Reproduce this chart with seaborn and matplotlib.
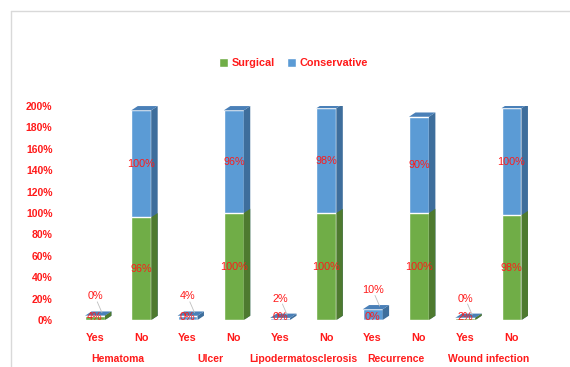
import matplotlib
matplotlib.use("Agg")
import matplotlib.pyplot as plt
from matplotlib.patches import Polygon, Patch
from matplotlib.lines import Line2D
import seaborn as sns
import pandas as pd

groups = ["Hematoma", "Ulcer", "Lipodermatosclerosis", "Recurrence", "Wound infection"]
answers = ["Yes", "No"]
surgical = [4, 96, 0, 100, 0, 100, 0, 100, 2, 98]
conservative = [0, 100, 4, 96, 2, 98, 10, 90, 0, 100]
y_ticks = [0, 20, 40, 60, 80, 100, 120, 140, 160, 180, 200]

green, blue = "#70AD47", "#5B9BD5"
green_side, blue_side = "#4E7A2F", "#3E6E9C"
blue_top = "#4A80B8"
red = "#FF1A1A"

df = pd.DataFrame({
    "slot": [f"{g}|{a}" for g in groups for a in answers],
    "answer": answers * len(groups),
    "Surgical": surgical,
    "Conservative": conservative,
})
df["Total"] = df["Surgical"] + df["Conservative"]

sns.set_style("white")
plt.rcParams["font.family"] = ["Liberation Sans", "DejaVu Sans"]

fig = plt.figure(figsize=(5.7, 3.67), dpi=100)
ax = fig.add_axes([0.126, 0.128, 0.812, 0.583])

# stacked look: total in blue, surgical in green over it
sns.barplot(data=df, x="slot", y="Total", color=blue, saturation=1, width=0.43, ax=ax, zorder=2)
n = len(df)
sns.barplot(data=df, x="slot", y="Surgical", color=green, saturation=1, width=0.43, ax=ax, zorder=4)

# fake 3D depth
dx, dy = 0.14, 4.0
for k, p in enumerate(ax.patches):
    x0 = p.get_x()
    x1 = x0 + p.get_width()
    h = p.get_height()
    is_green = k >= n
    side = green_side if is_green else blue_side
    z = 4 if is_green else 2
    ax.add_patch(Polygon([(x1, 0), (x1 + dx, dy), (x1 + dx, h + dy), (x1, h)],
                         closed=True, facecolor=side, edgecolor="none", zorder=z))
    if not is_green:
        ax.add_patch(Polygon([(x0, h), (x0 + dx, h + dy), (x1 + dx, h + dy), (x1, h)],
                             closed=True, facecolor=blue_top, edgecolor="none", zorder=z))

# data labels
for i, row in df.iterrows():
    s, c = row["Surgical"], row["Conservative"]
    if row["answer"] == "Yes":
        ys, yc = 3, s + c + 18
        # small leader line from label to bar
        ax.plot([i + 0.05, i + 0.15], [yc - 5, s + c + 3], color="#BFBFBF", lw=0.6, zorder=5)
    else:
        ys, yc = s / 2, s + c / 2
    ax.text(i, ys, f"{s}%", color=red, fontsize=7.8, ha="center", va="center", zorder=6)
    ax.text(i, yc, f"{c}%", color=red, fontsize=7.8, ha="center", va="center", zorder=6)

ax.set_xlim(-0.5, n - 0.5)
ax.set_ylim(0, 200)
ax.set_yticks(y_ticks)
ax.set_yticklabels([f"{v}%" for v in y_ticks])
ax.set_xticks(range(n))
ax.set_xticklabels(df["answer"])
ax.tick_params(axis="y", length=0, pad=14, labelsize=7.5, labelcolor=red)
ax.tick_params(axis="x", length=0, pad=9, labelsize=7.8, labelcolor=red)
for lab in ax.get_xticklabels() + ax.get_yticklabels():
    lab.set_fontweight("bold")
ax.set_xlabel("")
ax.set_ylabel("")
for sp in ax.spines.values():
    sp.set_visible(False)
ax.grid(False)

for j, g in enumerate(groups):
    ax.text(2 * j + 0.5, -0.18, g, transform=ax.get_xaxis_transform(), color=red,
            fontsize=7.5, fontweight="bold", ha="center", va="center")

handles = [Patch(facecolor=green, label="Surgical"), Patch(facecolor=blue, label="Conservative")]
leg = fig.legend(handles=handles, loc="center", bbox_to_anchor=(0.515, 0.828), ncol=2,
                 frameon=False, handlelength=0.8, handleheight=0.8, handletextpad=0.3,
                 columnspacing=1.2, fontsize=7.8)
for t in leg.get_texts():
    t.set_color(red)
    t.set_fontweight("bold")

# chart frame edge
fig.add_artist(Line2D([11 / 570, 11 / 570], [0, 1 - 11 / 367], color="#D9D9D9", lw=1))
fig.add_artist(Line2D([11 / 570, 1], [1 - 11 / 367, 1 - 11 / 367], color="#D9D9D9", lw=1))

fig.savefig("out.png", dpi=100)
